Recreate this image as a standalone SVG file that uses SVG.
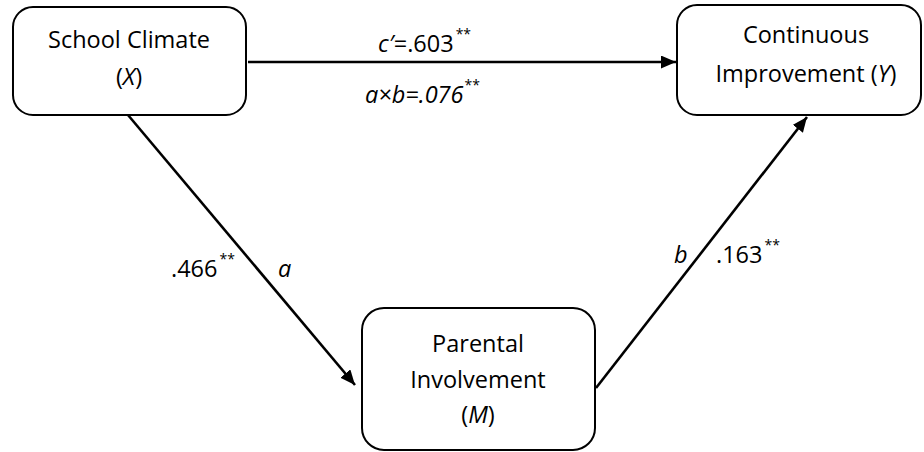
<svg xmlns="http://www.w3.org/2000/svg" width="924" height="452" viewBox="0 0 924 452">
<style>
.box{fill:#fff;stroke:#000;stroke-width:2}
.t{font-family:"Open Sans","Noto Sans",sans-serif;font-size:23.5px;fill:#000}
.c{text-anchor:middle}
.i{font-style:italic}
.s{font-size:14px;font-style:normal}
.ln{stroke:#000;stroke-width:2.6;fill:none;marker-end:url(#ah)}
</style>
<defs>
<marker id="ah" markerUnits="userSpaceOnUse" markerWidth="16" markerHeight="14" refX="15" refY="6.5" orient="auto">
<path d="M0,0 L15,6.5 L0,13 z" fill="#000"/>
</marker>
</defs>
<rect width="924" height="452" fill="#fff"/>
<g id="connectors">
<line class="ln" x1="248" y1="62" x2="676" y2="62"/>
<line class="ln" x1="128" y1="115" x2="355" y2="385"/>
<line class="ln" x1="596" y1="388" x2="807" y2="117"/>
</g>
<g id="labels">
<text class="t" x="378" y="52"><tspan class="i">c′</tspan>=.603<tspan class="s" dx="2" dy="-13">**</tspan></text>
<text class="t i" x="365" y="103">a×b=.076<tspan class="s" dx="1" dy="-13">**</tspan></text>
<text class="t" x="171" y="277">.466<tspan class="s" dx="2" dy="-13">**</tspan></text>
<text class="t i" x="278" y="277">a</text>
<text class="t i" x="674" y="263">b</text>
<text class="t" x="716" y="263">.163<tspan class="s" dx="2" dy="-13">**</tspan></text>
</g>
<g id="node-x">
<rect class="box" x="13" y="7" width="233" height="108" rx="20"/>
<text class="t c" x="129" y="48">School Climate</text>
<text class="t c" x="129" y="85">(<tspan class="i">X</tspan>)</text>
</g>
<g id="node-y">
<rect class="box" x="677" y="5" width="244" height="110" rx="20"/>
<text class="t c" x="806" y="43">Continuous</text>
<text class="t c" x="806" y="82">Improvement (<tspan class="i">Y</tspan>)</text>
</g>
<g id="node-m">
<rect class="box" x="362" y="308" width="233" height="142" rx="22"/>
<text class="t c" x="478" y="352">Parental</text>
<text class="t c" x="478" y="388">Involvement</text>
<text class="t c" x="478" y="423">(<tspan class="i">M</tspan>)</text>
</g>
</svg>
